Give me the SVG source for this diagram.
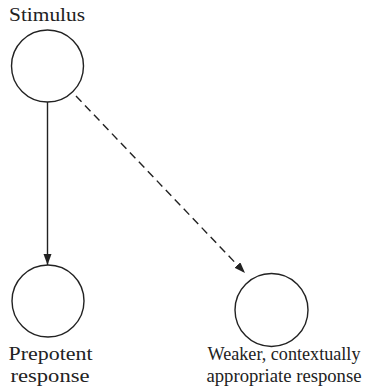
<svg xmlns="http://www.w3.org/2000/svg" width="367" height="391" viewBox="0 0 367 391">
<style>
.node{fill:#fff;stroke:#222;stroke-width:1.4}
.lbl{font-family:"Liberation Serif","DejaVu Serif",serif;font-size:19px;fill:#222;text-anchor:middle}
.edge{stroke:#222;stroke-width:1.4;fill:none}
.dash{stroke-dasharray:8 5}
</style>
<defs>
<marker id="arr" markerUnits="userSpaceOnUse" markerWidth="12" markerHeight="10" refX="11" refY="4" orient="auto">
<path d="M0,0 L11,4 L0,8 Z" fill="#222"/>
</marker>
</defs>
<rect width="367" height="391" fill="#fff"/>
<g id="connectors">
<line class="edge" x1="47.5" y1="102" x2="47.5" y2="265" marker-end="url(#arr)"/>
<line class="edge dash" x1="76" y1="96" x2="245" y2="273" marker-end="url(#arr)"/>
</g>
<g id="stimulus">
<circle class="node" cx="47.5" cy="66" r="36"/>
<text class="lbl" x="47" y="21" textLength="76" lengthAdjust="spacingAndGlyphs">Stimulus</text>
</g>
<g id="prepotent">
<circle class="node" cx="48" cy="301" r="36"/>
<text class="lbl" x="50.5" y="360" textLength="84" lengthAdjust="spacingAndGlyphs">Prepotent</text>
<text class="lbl" x="50" y="382" textLength="79" lengthAdjust="spacingAndGlyphs">response</text>
</g>
<g id="weaker">
<circle class="node" cx="271.5" cy="310" r="36.5"/>
<text class="lbl" x="284" y="360" textLength="153" lengthAdjust="spacingAndGlyphs">Weaker, contextually</text>
<text class="lbl" x="284" y="382" textLength="155" lengthAdjust="spacingAndGlyphs">appropriate response</text>
</g>
</svg>
